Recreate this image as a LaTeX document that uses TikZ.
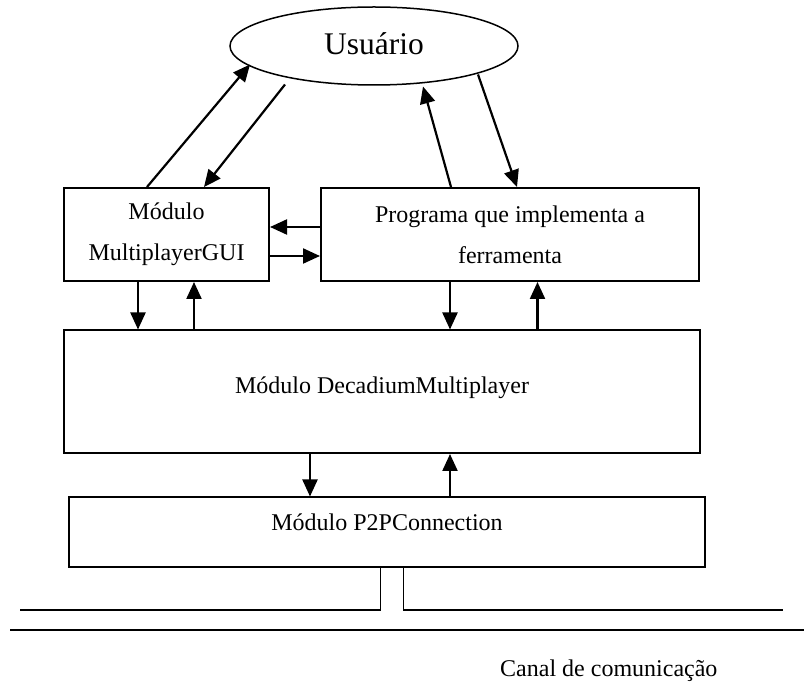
\documentclass[tikz,border=0pt]{standalone}
\usepackage{fontspec}
\setmainfont{Liberation Serif}
\usetikzlibrary{arrows.meta,shapes.geometric}

\tikzset{
  box/.style={draw, line width=2pt, rectangle, inner sep=0pt, anchor=center,
    font=\fontsize{24}{41}\selectfont, align=center},
  oval/.style={draw, line width=1.5pt, ellipse, inner sep=0pt, anchor=center,
    minimum width=288pt, minimum height=78pt,
    font=\fontsize{31.5}{36}\selectfont, text height=23.6pt, text depth=6.6pt},
  arr/.style={line width=2.2pt, -{Triangle[length=17pt,width=15pt]}},
  wire/.style={line width=1.8pt},
  caption/.style={font=\fontsize{24}{28}\selectfont, inner sep=0pt, anchor=base west}
}

\begin{document}
\begin{tikzpicture}[x=1pt, y=-1pt]
\useasboundingbox (0,0) rectangle (804,684);

% user and modules
\node[oval] (user) at (374,46) {Usuário};
\node[box, minimum width=205pt, minimum height=93pt] (gui) at (166.5,234.5)
  {Módulo\\MultiplayerGUI};
\node[box, minimum width=378pt, minimum height=93pt] (prog) at (510,234.5)
  {Programa que implementa a\\ferramenta};
\node[box, minimum width=636pt, minimum height=122.5pt,
  text height=18pt, text depth=13.5pt] (core) at (382,391.75)
  {Módulo DecadiumMultiplayer};
\node[box, minimum width=636pt, minimum height=70pt,
  text height=18pt, text depth=21pt] (p2p) at (387,532.5)
  {Módulo P2PConnection};

% user <-> top modules
\draw[arr] ([xshift=84pt]gui.north west) -- ([shift={(-124,18.5)}]user.center);
\draw[arr] ([shift={(-89,38.5)}]user.center) -- ([xshift=141pt]gui.north west);
\draw[arr] ([xshift=131pt]prog.north west) -- ([shift={(49,40.5)}]user.center);
\draw[arr] ([shift={(104,28.5)}]user.center) -- ([xshift=197pt]prog.north west);

% GUI <-> program
\draw[arr] ([yshift=7.5pt]prog.west) -- ([yshift=7.5pt]gui.east);
\draw[arr] ([yshift=-21.5pt]gui.east) -- ([yshift=-21.5pt]prog.west);

% top modules <-> DecadiumMultiplayer
\draw[arr] ([xshift=75pt]gui.south west) -- ([xshift=75pt]core.north west);
\draw[arr] ([xshift=131pt]core.north west) -- ([xshift=131pt]gui.south west);
\draw[arr] ([xshift=130pt]prog.south west) -- ([xshift=387pt]core.north west);
\draw[arr] ([xshift=474.5pt]core.north west) -- ([xshift=217.5pt]prog.south west);

% DecadiumMultiplayer <-> P2PConnection
\draw[arr] ([xshift=247pt]core.south west) -- ([xshift=242pt]p2p.north west);
\draw[arr] ([xshift=382pt]p2p.north west) -- ([xshift=387pt]core.south west);

% link to the communication channel
\coordinate (tapL) at (20,610);
\coordinate (tapR) at (783,610);
\coordinate (busL) at (10,630);
\coordinate (busR) at (804,630);
\draw[wire] ([xshift=312.5pt]p2p.south west) |- (tapL);
\draw[wire] ([xshift=335.5pt]p2p.south west) |- (tapR);
\draw[wire] (busL) -- (busR);

\node[caption] (canal) at (500,676) {Canal de comunicação};
\end{tikzpicture}
\end{document}
